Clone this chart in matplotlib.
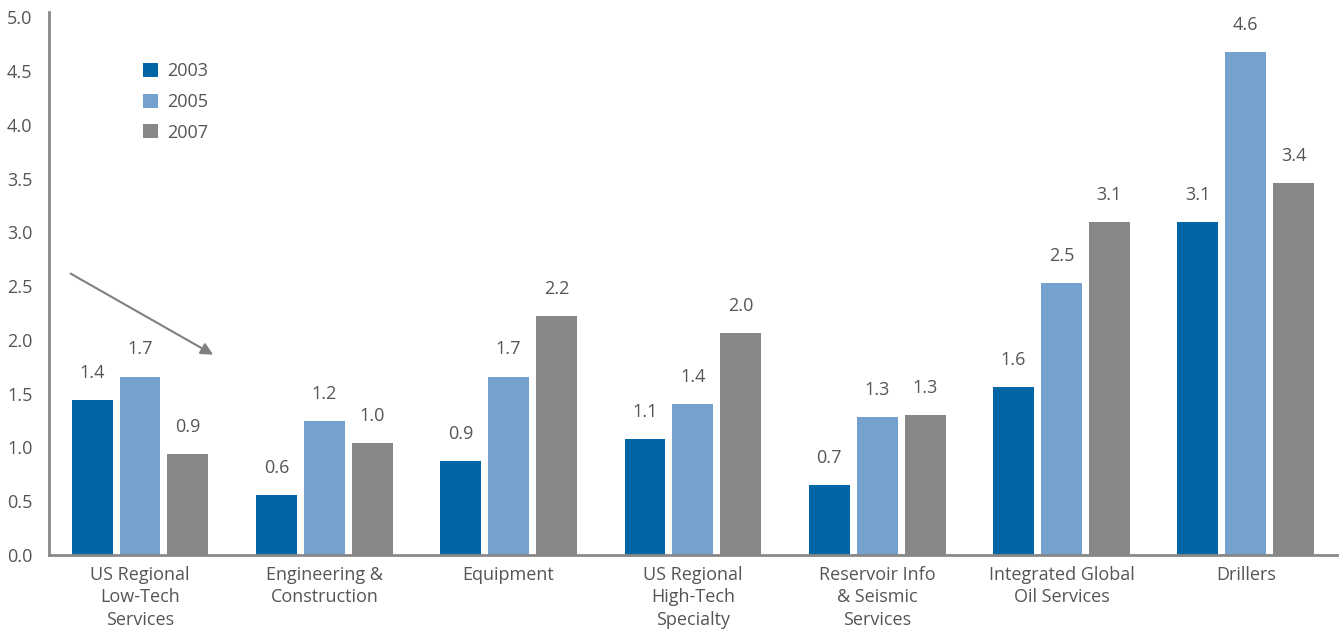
import matplotlib
matplotlib.use("Agg")
import matplotlib.pyplot as plt
import numpy as np

categories = ["US Regional\nLow-Tech\nServices", "Engineering &\nConstruction", "Equipment",
              "US Regional\nHigh-Tech\nSpecialty", "Reservoir Info\n& Seismic\nServices",
              "Integrated Global\nOil Services", "Drillers"]
years = ["2003", "2005", "2007"]
v2003 = [1.44, 0.56, 0.87, 1.08, 0.65, 1.56, 3.10]
v2005 = [1.66, 1.25, 1.66, 1.40, 1.28, 2.53, 4.68]
v2007 = [0.94, 1.04, 2.22, 2.06, 1.30, 3.10, 3.46]
l2003 = ["1.4", "0.6", "0.9", "1.1", "0.7", "1.6", "3.1"]
l2005 = ["1.7", "1.2", "1.7", "1.4", "1.3", "2.5", "4.6"]
l2007 = ["0.9", "1.0", "2.2", "2.0", "1.3", "3.1", "3.4"]
yticks = [0.0, 0.5, 1.0, 1.5, 2.0, 2.5, 3.0, 3.5, 4.0, 4.5, 5.0]

colors = ["#0066a6", "#74a1cd", "#878787"]
txt = "#555555"
plt.rcParams['font.family'] = ['Open Sans', 'DejaVu Sans']

fig = plt.figure(figsize=(13.39, 6.31), dpi=100)
ax = fig.add_axes([49/1339, 76/631, 1 - 49/1339, 543/631])

x = np.arange(len(categories))
w = 0.222
step = 0.26
for i, (vals, labs) in enumerate(zip([v2003, v2005, v2007], [l2003, l2005, l2007])):
    bars = ax.bar(x + (i - 1) * step, vals, w, color=colors[i], label=years[i], zorder=2)
    for b, lab in zip(bars, labs):
        ax.annotate(lab, (b.get_x() + b.get_width() / 2, b.get_height()),
                    xytext=(0, 13), textcoords="offset points", ha="center", va="bottom",
                    fontsize=13, color=txt)

ax.set_xlim(-0.494, 6.506)
ax.set_ylim(0, 5.05)
ax.set_yticks(yticks)
ax.set_yticklabels([f"{t:.1f}" for t in yticks])
ax.set_xticks(x)
ax.set_xticklabels(categories, fontsize=13, color=txt, linespacing=1.3)
ax.tick_params(axis="y", length=0, labelsize=13, labelcolor=txt, pad=12)
ax.tick_params(axis="x", length=0, pad=8)
for s in ["top", "right"]:
    ax.spines[s].set_visible(False)
for s in ["left", "bottom"]:
    ax.spines[s].set_color("#888888")
    ax.spines[s].set_linewidth(2)

ax.annotate("", xy=(0.41, 1.85), xytext=(-0.39, 2.63),
            arrowprops=dict(arrowstyle="-|>", color="#808080", lw=1.5, mutation_scale=18))

leg = ax.legend(loc="upper left", bbox_to_anchor=(78/1290, 1 - 34/543), frameon=False,
                fontsize=13, handlelength=0.8, handleheight=0.8, labelspacing=0.7,
                handletextpad=0.5, labelcolor=txt)

fig.savefig("out.png", dpi=100)
